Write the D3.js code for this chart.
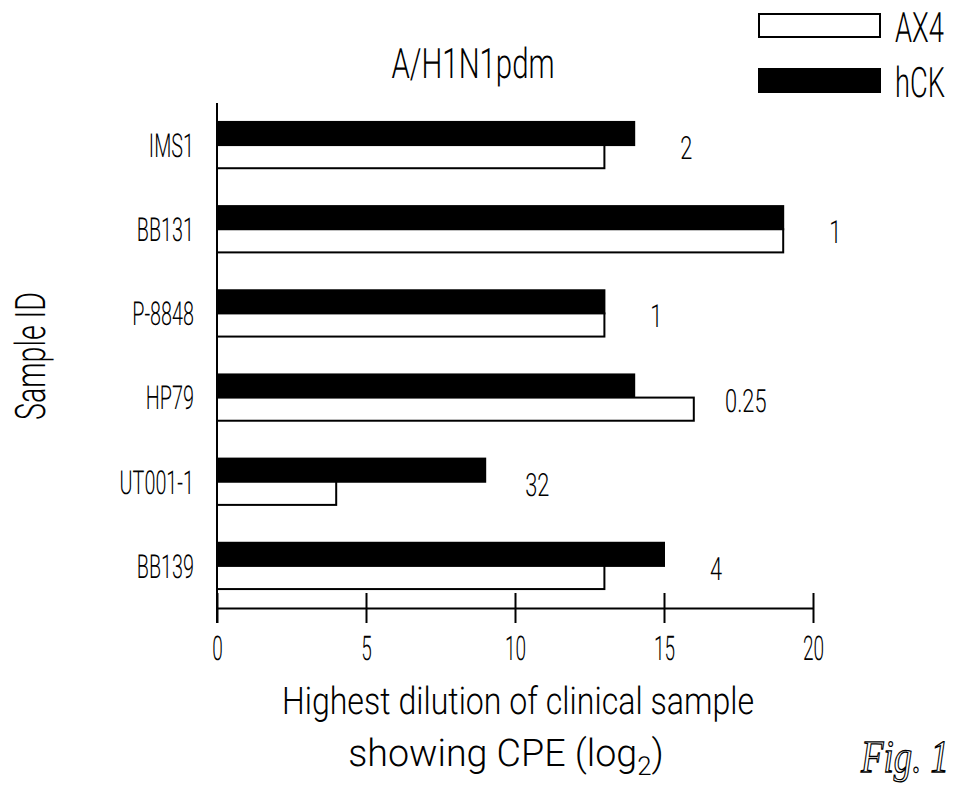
<!DOCTYPE html>
<html>
<head>
<meta charset="utf-8">
<script src="https://cdn.jsdelivr.net/npm/d3@7"></script>
<style>
  html, body { margin: 0; padding: 0; background: #fff; }
  svg { display: block; }
  text { font-family: Roboto, "Liberation Sans", Arial, sans-serif; font-weight: 300; fill: #000;
         -webkit-font-smoothing: antialiased; text-rendering: geometricPrecision; }
</style>
</head>
<body>
<svg id="chart" width="953" height="787"></svg>
<script>
// ---- data ----
const samples = ["IMS1", "BB131", "P-8848", "HP79", "UT001-1", "BB139"];
const seriesNames = ["AX4", "hCK"];
const ax4Values = [13, 19, 13, 16, 4, 13];
const hckValues = [14, 19, 13, 14, 9, 15];
const foldLabels = ["2", "1", "1", "0.25", "32", "4"];
const xTicks = [0, 5, 10, 15, 20];
const titleText = "A/H1N1pdm";
const yTitleText = "Sample ID";
const xTitleLine1 = "Highest dilution of clinical sample";
const xTitleLine2 = ["showing CPE (log", "2", ")"];
const figText = "Fig. 1";

const rows = samples.map((s, i) => ({
  sample: s, AX4: ax4Values[i], hCK: hckValues[i], fold: foldLabels[i]
}));

// ---- layout ----
const svg = d3.select("#chart");
const x = d3.scaleLinear().domain([0, 20]).range([217, 813]);
const y = d3.scaleBand().domain(samples).range([103, 608])
  .paddingInner(0.45).paddingOuter(0.225);
const sub = d3.scaleBand().domain(["hCK", "AX4"]).range([0, y.bandwidth()]);
const fill = { AX4: "#fff", hCK: "#000" };
const axisY = y.range()[1];
const tickHalf = 15;

// narrow, plotter-like lettering: squeeze text horizontally
function squeeze(sel, k) {
  sel.each(function () {
    const t = d3.select(this);
    const x0 = +t.attr("x") || 0;
    t.attr("x", x0 / k).attr("transform", `scale(${k},1)`);
  });
}
function label(parent, str, cx, cy, k, size, anchor) {
  return parent.append("text")
    .attr("transform", `translate(${cx},${cy}) scale(${k},1)`)
    .attr("text-anchor", anchor || "middle")
    .style("font-size", size + "px")
    .text(str);
}

// ---- bars ----
const rowG = svg.append("g").selectAll("g.row").data(rows).join("g")
  .attr("class", "row")
  .attr("transform", d => `translate(0,${y(d.sample)})`);

rowG.selectAll("rect")
  .data(d => sub.domain().map(k => ({ key: k, value: d[k] })))
  .join("rect")
  .attr("x", x(0))
  .attr("y", d => sub(d.key))
  .attr("width", d => x(d.value) - x(0))
  .attr("height", sub.bandwidth())
  .attr("fill", d => fill[d.key])
  .attr("stroke", "#000")
  .attr("stroke-width", 2);

// fold-difference labels to the right of each pair
rowG.append("text")
  .attr("transform", d =>
    `translate(${x(Math.max(d.AX4, d.hCK)) + 52},${y.bandwidth() / 2 + 14}) scale(0.68,1)`)
  .attr("text-anchor", "middle")
  .style("font-size", "32px")
  .text(d => d.fold);

// ---- axes ----
const gx = svg.append("g")
  .attr("transform", `translate(0,${axisY})`)
  .call(d3.axisBottom(x).tickValues(xTicks).tickSize(tickHalf).tickSizeOuter(0));
gx.attr("font-family", null).attr("font-size", null);
gx.select(".domain").attr("stroke-width", 2);
gx.selectAll(".tick line").attr("y1", -tickHalf).attr("stroke-width", 2);
gx.selectAll(".tick text").attr("y", 52).attr("dy", 0)
  .style("font-size", "34px").call(squeeze, 0.56);

const gy = svg.append("g")
  .attr("transform", `translate(${x(0)},0)`)
  .call(d3.axisLeft(y).tickSize(0).tickPadding(23));
gy.attr("font-family", null).attr("font-size", null);
gy.select(".domain").remove();
gy.selectAll(".tick text").attr("dy", "0.36em")
  .style("font-size", "33px").call(squeeze, 0.6);

svg.append("line")
  .attr("x1", x(0)).attr("x2", x(0))
  .attr("y1", y.range()[0]).attr("y2", axisY + tickHalf)
  .attr("stroke", "#000").attr("stroke-width", 2);

// ---- titles ----
label(svg, titleText, 473, 78, 0.7, 42);

svg.append("text")
  .attr("transform", "translate(45,356) rotate(-90) scale(0.68,1)")
  .attr("text-anchor", "middle")
  .style("font-size", "42px")
  .text(yTitleText);

label(svg, xTitleLine1, 518, 714, 0.845, 38);
const l2 = label(svg, "", 506, 766, 0.99, 38);
l2.append("tspan").text(xTitleLine2[0]);
l2.append("tspan").attr("dy", 9).style("font-size", "26px").text(xTitleLine2[1]);
l2.append("tspan").attr("dy", -9).text(xTitleLine2[2]);

// ---- legend ----
const lg = svg.append("g").selectAll("g").data(seriesNames).join("g")
  .attr("transform", (d, i) => `translate(759,${14 + i * 55})`);
lg.append("rect")
  .attr("width", 121).attr("height", 23)
  .attr("fill", d => fill[d]).attr("stroke", "#000").attr("stroke-width", 2);
lg.append("text")
  .attr("transform", "translate(136,28) scale(0.65,1)")
  .style("font-size", "42px")
  .text(d => d);

// ---- figure number ----
svg.append("text")
  .attr("transform", "translate(949,772) scale(0.8,1)")
  .attr("text-anchor", "end")
  .style("font-family", "'Liberation Serif', serif")
  .style("font-style", "italic")
  .style("font-weight", 400)
  .style("font-size", "46px")
  .style("fill", "none")
  .attr("stroke", "#000").attr("stroke-width", 1.3)
  .text(figText);
</script>
</body>
</html>
